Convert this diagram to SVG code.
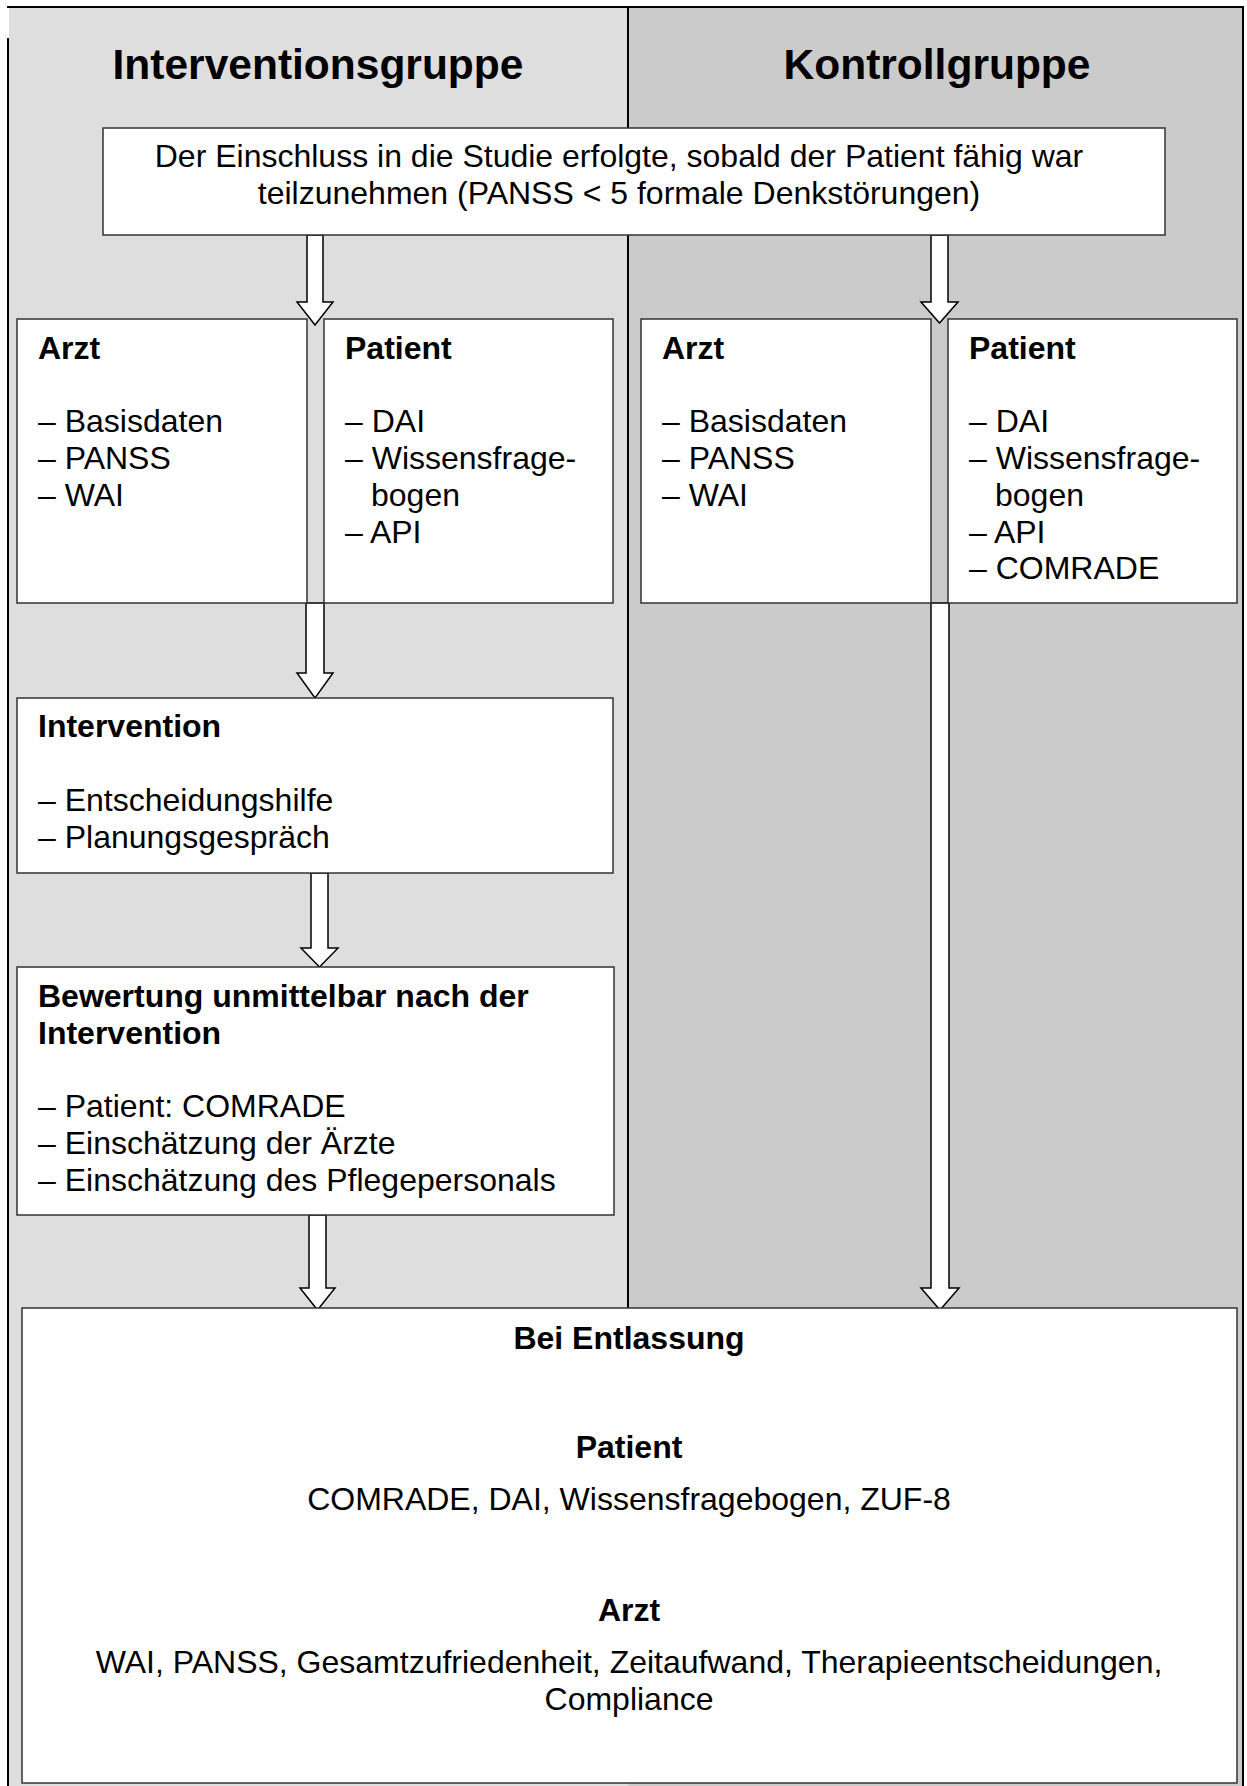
<svg xmlns="http://www.w3.org/2000/svg" width="1247" height="1786" viewBox="0 0 1247 1786">
<defs>
<style>
.t{font-family:"Liberation Sans",Arial,sans-serif;font-size:32px;fill:#000}
.b{font-weight:bold}
.h{font-family:"Liberation Sans",Arial,sans-serif;font-size:42.5px;font-weight:bold;fill:#000}
.box{fill:#fff;stroke:#333;stroke-width:1.5}
.arr{fill:#fff;stroke:#000;stroke-width:1.5;stroke-linejoin:miter}
.frame{stroke:#000;stroke-width:2;fill:none}
</style>
</defs>
<rect x="0" y="0" width="1247" height="1786" fill="#fff"/>
<g id="lanes">
<rect x="9" y="7" width="619" height="1779" fill="#dedede"/>
<rect x="628" y="7" width="615" height="1779" fill="#cbcbcb"/>
<line class="frame" x1="7" y1="7" x2="1244" y2="7"/>
<line class="frame" x1="8" y1="38" x2="8" y2="1786"/>
<line class="frame" x1="1243" y1="7" x2="1243" y2="1786"/>
<line class="frame" x1="628" y1="7" x2="628" y2="1308"/>
<text class="h" x="318" y="79" text-anchor="middle">Interventionsgruppe</text>
<text class="h" x="937" y="79" text-anchor="middle">Kontrollgruppe</text>
</g>
<g id="connectors">
<path class="arr" d="M307,235 H323 V302 H333 L315,325 L297,302 H307 Z"/>
<path class="arr" d="M931,235 H948 V302 H958 L939.5,323 L921,302 H931 Z"/>
<path class="arr" d="M306,603 H324 V673 H333 L315,698 L297,673 H306 Z"/>
<path class="arr" d="M311,873 H328 V948 H338 L319.5,967 L301,948 H311 Z"/>
<path class="arr" d="M309,1215 H326 V1288 H335 L317.5,1310 L300,1288 H309 Z"/>
<path class="arr" d="M931,603 H949 V1288 H959 L940,1310 L921,1288 H931 Z"/>
</g>
<g id="einschluss">
<rect class="box" x="103" y="128" width="1062" height="107"/>
<text class="t" x="619" y="167" text-anchor="middle">Der Einschluss in die Studie erfolgte, sobald der Patient fähig war</text>
<text class="t" x="619" y="204" text-anchor="middle">teilzunehmen (PANSS &lt; 5 formale Denkstörungen)</text>
</g>
<g id="ig-arzt">
<rect class="box" x="17" y="319" width="290" height="284"/>
<text class="t b" x="38" y="359">Arzt</text>
<text class="t" x="38" y="432">– Basisdaten</text>
<text class="t" x="38" y="469">– PANSS</text>
<text class="t" x="38" y="506">– WAI</text>
</g>
<g id="ig-patient">
<rect class="box" x="324" y="319" width="289" height="284"/>
<text class="t b" x="345" y="359">Patient</text>
<text class="t" x="345" y="432">– DAI</text>
<text class="t" x="345" y="469">– Wissensfrage-</text>
<text class="t" x="371" y="506">bogen</text>
<text class="t" x="345" y="543">– API</text>
</g>
<g id="kg-arzt">
<rect class="box" x="641" y="319" width="290" height="284"/>
<text class="t b" x="662" y="359">Arzt</text>
<text class="t" x="662" y="432">– Basisdaten</text>
<text class="t" x="662" y="469">– PANSS</text>
<text class="t" x="662" y="506">– WAI</text>
</g>
<g id="kg-patient">
<rect class="box" x="948" y="319" width="289" height="284"/>
<text class="t b" x="969" y="359">Patient</text>
<text class="t" x="969" y="432">– DAI</text>
<text class="t" x="969" y="469">– Wissensfrage-</text>
<text class="t" x="995" y="506">bogen</text>
<text class="t" x="969" y="543">– API</text>
<text class="t" x="969" y="579">– COMRADE</text>
</g>
<g id="intervention">
<rect class="box" x="17" y="698" width="596" height="175"/>
<text class="t b" x="38" y="737">Intervention</text>
<text class="t" x="38" y="811">– Entscheidungshilfe</text>
<text class="t" x="38" y="848">– Planungsgespräch</text>
</g>
<g id="bewertung">
<rect class="box" x="17" y="967" width="597" height="248"/>
<text class="t b" x="38" y="1007">Bewertung unmittelbar nach der</text>
<text class="t b" x="38" y="1044">Intervention</text>
<text class="t" x="38" y="1117">– Patient: COMRADE</text>
<text class="t" x="38" y="1154">– Einschätzung der Ärzte</text>
<text class="t" x="38" y="1191">– Einschätzung des Pflegepersonals</text>
</g>
<g id="entlassung">
<rect class="box" x="22" y="1308" width="1215" height="475"/>
<text class="t b" x="629" y="1349" text-anchor="middle">Bei Entlassung</text>
<text class="t b" x="629" y="1458" text-anchor="middle">Patient</text>
<text class="t" x="629" y="1510" text-anchor="middle">COMRADE, DAI, Wissensfragebogen, ZUF-8</text>
<text class="t b" x="629" y="1621" text-anchor="middle">Arzt</text>
<text class="t" x="629" y="1673" text-anchor="middle">WAI, PANSS, Gesamtzufriedenheit, Zeitaufwand, Therapieentscheidungen,</text>
<text class="t" x="629" y="1710" text-anchor="middle">Compliance</text>
</g>
</svg>
